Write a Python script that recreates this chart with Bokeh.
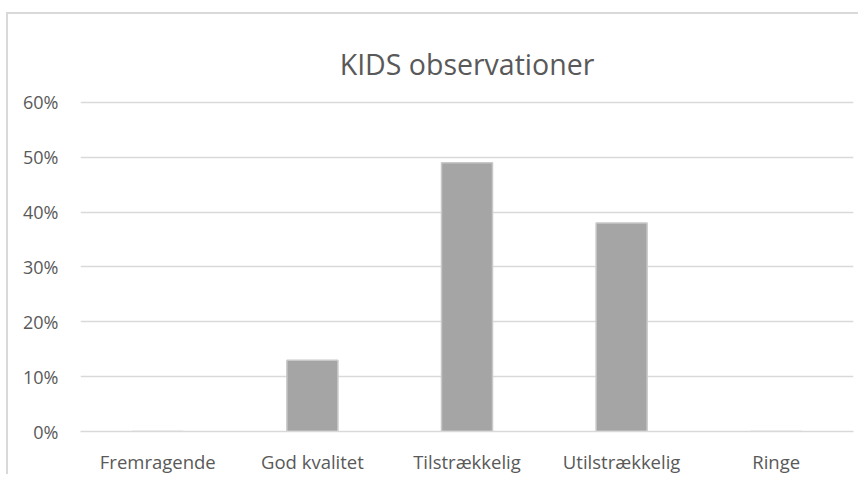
from bokeh.plotting import figure
from bokeh.models import NumeralTickFormatter, FixedTicker, Range1d, Label
from bokeh.embed import file_html
from bokeh.resources import INLINE

categories = ["Fremragende", "God kvalitet", "Tilstrækkelig", "Utilstrækkelig", "Ringe"]
values = [0.0, 0.13, 0.49, 0.38, 0.0]
y_ticks = [0.0, 0.1, 0.2, 0.3, 0.4, 0.5, 0.6]
title_text = "KIDS observationer"

FONT = "Open Sans"
TXT = "#595959"

# the frame reaches above the 60% line so the title can sit inside it
Y_TOP = 0.6 + 72 / 550

p = figure(x_range=categories, y_range=Range1d(0, Y_TOP), width=852, height=462,
           output_backend="svg", toolbar_location=None,
           min_border_left=72, min_border_right=7, min_border_top=16, min_border_bottom=42,
           margin=(12, 0, 0, 6))

p.vbar(x=categories, top=values, width=0.33, fill_color="#a5a5a5",
       line_color="#c8c8c8", line_width=1.5)

title = Label(x=len(categories) / 2, y=0.6 + 38 / 550, text=title_text, text_align="center",
              text_baseline="alphabetic", text_font=FONT, text_font_size="28.5px",
              text_color=TXT)
p.add_layout(title)

p.outline_line_color = None
p.xgrid.grid_line_color = None
p.ygrid.grid_line_color = "#d9d9d9"
p.ygrid.grid_line_width = 1.5

p.yaxis.ticker = FixedTicker(ticks=y_ticks)
p.yaxis.formatter = NumeralTickFormatter(format="0%")
p.yaxis.axis_line_color = None
p.yaxis.major_tick_line_color = None
p.yaxis.minor_tick_line_color = None
p.yaxis.major_label_standoff = 16
p.yaxis.major_label_text_font = FONT
p.yaxis.major_label_text_font_size = "18px"
p.yaxis.major_label_text_color = TXT

p.xaxis.axis_line_color = "#d9d9d9"
p.xaxis.axis_line_width = 1.5
p.xaxis.major_tick_line_color = None
p.xaxis.minor_tick_line_color = None
p.xaxis.major_label_standoff = 11
p.xaxis.major_label_text_font = FONT
p.xaxis.major_label_text_font_size = "18.5px"
p.xaxis.major_label_text_color = TXT

p.styles = {"border-left": "2px solid #d9d9d9", "border-top": "2px solid #d9d9d9"}

open("out.html", "w").write(file_html(p, INLINE))
